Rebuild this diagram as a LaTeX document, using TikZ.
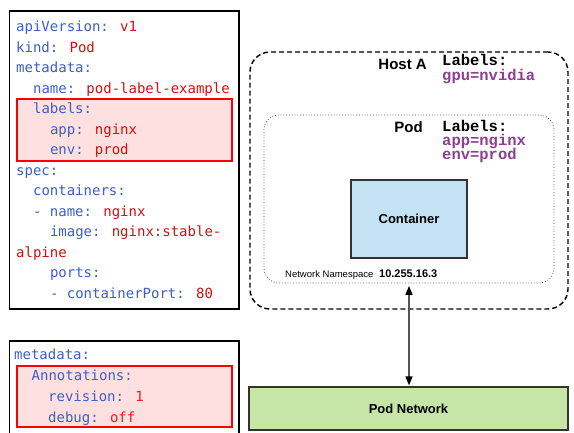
\documentclass[tikz,border=0pt]{standalone}
\usepackage{fontspec}
\setmainfont{Liberation Sans}
\newfontfamily\codefont{DejaVu Sans Mono}
\newfontfamily\lblfont{Liberation Mono}
\usetikzlibrary{arrows.meta}
\definecolor{keyblue}{HTML}{3D5FC4}
\definecolor{valred}{HTML}{D01010}
\definecolor{brightred}{HTML}{F01818}
\definecolor{pinkfill}{HTML}{FFE0E0}
\definecolor{boxred}{HTML}{FF0000}
\definecolor{lblpurple}{HTML}{8E3F91}
\definecolor{contblue}{HTML}{C3E3F5}
\definecolor{netgreen}{HTML}{C6E6A8}
\definecolor{arrowgray}{HTML}{555555}
\newcommand{\ky}[1]{\textcolor{keyblue}{#1}}
\newcommand{\vl}[1]{\textcolor{valred}{#1}}
\newcommand{\vb}[1]{\textcolor{brightred}{#1}}
\begin{document}
\begin{tikzpicture}[x=1pt,y=-1pt,
  codeline/.style={anchor=base west, inner sep=0pt, font=\codefont\fontsize{14}{16}\selectfont},
  lblhead/.style={anchor=base west, inner sep=0pt, font=\lblfont\bfseries\fontsize{15.5}{17}\selectfont},
  lblval/.style={lblhead, text=lblpurple},
  bigtitle/.style={anchor=base east, inner sep=0pt, font=\bfseries\fontsize{15}{17}\selectfont},
  codebox/.style={draw=black, line width=1.2pt},
  hlbox/.style={draw=boxred, fill=pinkfill, line width=2pt},
  flatbox/.style={draw=black!80, line width=1.2pt, inner sep=0pt, font=\bfseries\fontsize{13}{15}\selectfont}
]
\useasboundingbox (0,0) rectangle (574,432);
\fill[white] (0,0) rectangle (574,432);

% ---- left code box 1
\draw[codebox] (9.5,11) rectangle (239,309);
\draw[hlbox] (17,99) rectangle (232,161);
\node[codeline] (l1) at (16,31.7) {\ky{apiVersion:} \vl{v1}};
\node[codeline] (l2) at (16,52.2) {\ky{kind:} \vl{Pod}};
\node[codeline] (l3) at (16,72.7) {\ky{metadata:}};
\node[codeline] (l4) at (32.9,93.2) {\ky{name:} \vl{pod-label-example}};
\node[codeline] (l5) at (32.9,113.7) {\ky{labels:}};
\node[codeline] (l6) at (49.8,134.2) {\ky{app:} \vl{nginx}};
\node[codeline] (l7) at (49.8,154.7) {\ky{env:} \vl{prod}};
\node[codeline] (l8) at (16,175.2) {\ky{spec:}};
\node[codeline] (l9) at (32.9,195.7) {\ky{containers:}};
\node[codeline] (l10) at (32.9,216.2) {\ky{- name:} \vl{nginx}};
\node[codeline] (l11) at (49.8,236.7) {\ky{image:} \vl{nginx:stable-}};
\node[codeline] (l12) at (16,257.2) {\vl{alpine}};
\node[codeline] (l13) at (49.8,277.7) {\ky{ports:}};
\node[codeline] (l14) at (49.8,298.2) {\ky{- containerPort:} \vl{80}};

% ---- left code box 2
\draw[codebox] (9.5,341) rectangle (239,445);
\draw[hlbox] (17,366) rectangle (232,427);
\node[codeline] (m1) at (14,359) {\ky{metadata:}};
\node[codeline] (m2) at (31.5,380.5) {\ky{Annotations:}};
\node[codeline] (m3) at (48,401) {\ky{revision:} \vb{1}};
\node[codeline] (m4) at (48,422) {\ky{debug:} \vb{off}};

% ---- host
\node[draw=black, line width=1.4pt, dash pattern=on 5pt off 3pt, rounded corners=20pt,
      minimum width=318pt, minimum height=257pt, inner sep=0pt] (host) at (409,180.5) {};
\node[bigtitle] (hostA) at (427,69) {Host A};
\node[lblhead] (hl1) at (442,65) {Labels:};
\node[lblval] (hl2) at (442,80) {gpu=nvidia};

% ---- pod
\node[draw=black!70, line width=0.8pt, dotted, rounded corners=15pt,
      minimum width=290pt, minimum height=168pt, inner sep=0pt] (pod) at (409,199) {};
\node[bigtitle] (podt) at (423,132) {Pod};
\node[lblhead] (pl1) at (442,131) {Labels:};
\node[lblval] (pl2) at (442,145) {app=nginx};
\node[lblval] (pl3) at (442,159) {env=prod};

% ---- container
\node[flatbox, fill=contblue, minimum width=116pt, minimum height=78pt] (cont) at (409,219) {Container};
\node[anchor=base west, inner sep=0pt, font=\fontsize{9.5}{11}\selectfont] (ns) at (285,277) {Network Namespace};
\node[anchor=base west, inner sep=0pt, font=\bfseries\fontsize{11}{13}\selectfont] (ip) at (379,277) {10.255.16.3};

% ---- pod network
\node[flatbox, fill=netgreen, minimum width=319pt, minimum height=43pt] (podnet) at (408.5,408.5) {Pod Network};

% ---- connector
\draw[arrowgray, line width=1.5pt, {Triangle[length=9pt,width=7pt,color=black]}-{Triangle[length=9pt,width=7pt,color=black]},
      shorten <=2.5pt, shorten >=1pt]
  (pod.south) -- (pod.south |- podnet.north);
\end{tikzpicture}
\end{document}
